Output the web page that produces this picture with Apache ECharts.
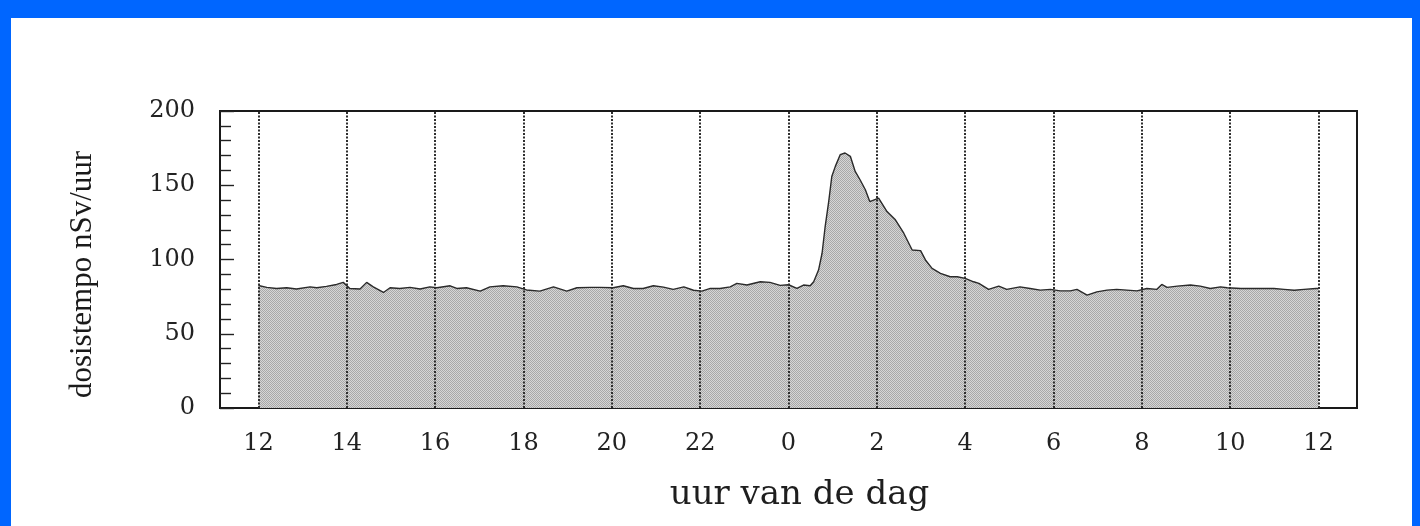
<!DOCTYPE html>
<html>
<head>
<meta charset="utf-8">
<script src="https://cdn.jsdelivr.net/npm/echarts@6/dist/echarts.min.js"></script>
<style>
  html, body { margin: 0; padding: 0; width: 1420px; height: 526px; overflow: hidden; background: #0066ff; }
  #paper { position: absolute; left: 11px; top: 18px; width: 1401px; height: 508px; background: #ffffff; }
  #chart { position: absolute; left: 0; top: 0; width: 1420px; height: 526px; }
</style>
</head>
<body>
<div id="paper"></div>
<div id="chart"></div>
<script>
// hours after 12:00 (noon) at which the curve was read
const hours = [
  0.00, 0.19, 0.41, 0.64, 0.86, 1.17, 1.32, 1.54, 1.77, 1.92,
  2.07, 2.30, 2.45, 2.60, 2.83, 2.98, 3.20, 3.43, 3.66, 3.88,
  4.04, 4.34, 4.49, 4.71, 5.02, 5.24, 5.54, 5.85, 6.07, 6.37,
  6.68, 6.98, 7.21, 7.51, 7.73, 8.03, 8.26, 8.49, 8.71, 8.94,
  9.17, 9.39, 9.63, 9.85, 10.04, 10.23, 10.45, 10.68, 10.83, 11.06,
  11.36, 11.58, 11.81, 12.00, 12.19, 12.34, 12.49, 12.57, 12.68, 12.76,
  12.83, 12.91, 12.98, 13.06, 13.17, 13.28, 13.40, 13.51, 13.62, 13.74,
  13.84, 14.04, 14.23, 14.42, 14.61, 14.80, 14.99, 15.10, 15.25, 15.44,
  15.66, 15.82, 16.00, 16.19, 16.31, 16.53, 16.76, 16.94, 17.24, 17.47,
  17.70, 17.93, 18.15, 18.38, 18.53, 18.76, 18.98, 19.21, 19.43, 19.66,
  19.89, 20.11, 20.34, 20.45, 20.57, 20.80, 21.10, 21.32, 21.55, 21.78,
  21.93, 22.24, 22.46, 22.69, 22.99, 23.22, 23.45, 23.67, 23.94, 24.00
];
// dosistempo (nSv/uur)
const dose = [
  82.5, 81.2, 80.5, 81.0, 80.1, 81.6, 81.0, 81.9, 83.2, 84.6,
  80.5, 80.1, 84.6, 81.6, 77.8, 81.0, 80.5, 81.2, 80.1, 81.6,
  81.0, 82.3, 80.5, 81.0, 78.7, 81.6, 82.3, 81.6, 79.5, 78.7,
  81.6, 78.7, 81.0, 81.2, 81.2, 81.0, 82.3, 80.5, 80.5, 82.3,
  81.4, 79.9, 81.6, 79.3, 78.7, 80.5, 80.5, 81.6, 83.9, 82.8,
  85.0, 84.6, 82.6, 83.0, 80.5, 82.8, 82.3, 85.0, 92.9, 104.2,
  122.2, 139.0, 155.9, 162.7, 170.6, 171.7, 169.5, 159.3, 153.7, 147.0,
  139.0, 141.3, 132.3, 126.7, 117.7, 106.4, 106.0, 99.7, 94.0, 90.7,
  88.4, 88.4, 87.3, 85.0, 83.9, 79.9, 82.1, 79.9, 81.6, 80.5,
  79.4, 79.9, 78.9, 78.9, 79.9, 76.0, 78.2, 79.4, 79.9, 79.4,
  78.9, 80.5, 79.9, 83.2, 81.2, 82.1, 82.8, 82.1, 80.5, 81.6,
  81.0, 80.5, 80.5, 80.5, 80.5, 79.9, 79.3, 79.9, 80.5, 80.5
];
// x tick positions (hours after noon) and their labels (hour of the day)
const xTickHours = [0, 2, 4, 6, 8, 10, 12, 14, 16, 18, 20, 22, 24];
const xTickLabels = ['12', '14', '16', '18', '20', '22', '0', '2', '4', '6', '8', '10', '12'];
const yTickValues = [0, 50, 100, 150, 200];

const seriesData = hours.map((h, i) => [h, dose[i]]);

// halftone-like fill pattern
const pat = document.createElement('canvas');
pat.width = 2; pat.height = 2;
const pctx = pat.getContext('2d');
pctx.fillStyle = '#d6d6d6'; pctx.fillRect(0, 0, 2, 2);
pctx.fillStyle = '#a8a8a8'; pctx.fillRect(0, 0, 1, 1); pctx.fillRect(1, 1, 1, 1);

const gridLineStyle = { type: [2, 1.5], color: '#2e2e2e', width: 2 };
const innerHours = xTickHours.filter(h => h > xTickHours[0] && h < xTickHours[xTickHours.length - 1]);
const edgeHours = [xTickHours[0], xTickHours[xTickHours.length - 1]];

const chart = echarts.init(document.getElementById('chart'), null, { renderer: 'canvas' });
chart.setOption({
  animation: false,
  backgroundColor: 'transparent',
  grid: {
    left: 220, right: 63, top: 111, bottom: 118,
    show: true, borderColor: '#1a1a1a', borderWidth: 2, backgroundColor: 'transparent'
  },
  xAxis: {
    type: 'value',
    min: -0.87, max: 24.87,
    name: 'uur van de dag',
    nameLocation: 'middle',
    nameGap: 70,
    nameTextStyle: { fontFamily: 'DejaVu Serif', fontSize: 34, color: '#1e1e1e', padding: [0, 0, 0, 22] },
    axisLine: { show: false, onZero: false },
    axisTick: { show: false },
    splitLine: { show: false },
    axisLabel: {
      customValues: xTickHours,
      formatter: v => xTickLabels[xTickHours.indexOf(Math.round(v))],
      fontFamily: 'DejaVu Serif', fontSize: 24, color: '#222', margin: 24
    }
  },
  yAxis: {
    type: 'value',
    min: 0, max: 200, interval: 50,
    name: 'dosistempo nSv/uur',
    nameLocation: 'middle',
    nameGap: 122,
    nameRotate: 90,
    nameTextStyle: { fontFamily: 'Liberation Serif', fontSize: 31, color: '#1a1a1a', padding: [0, 30, 0, 0] },
    axisLine: { show: false, onZero: false },
    axisTick: { show: true, inside: true, length: 14, lineStyle: { color: '#222', width: 1.4 } },
    minorTick: { show: true, splitNumber: 5, length: 11, lineStyle: { color: '#222', width: 1.4 } },
    splitLine: { show: false },
    axisLabel: {
      customValues: yTickValues,
      fontFamily: 'DejaVu Serif', fontSize: 24, color: '#222', margin: 25
    }
  },
  series: [
    {
      type: 'line', data: [], z: 1, silent: true,
      markLine: {
        symbol: 'none', silent: true, label: { show: false },
        lineStyle: gridLineStyle,
        data: innerHours.map(h => ({ xAxis: h }))
      }
    },
    {
      type: 'line', z: 3, silent: true,
      data: seriesData,
      showSymbol: false, symbol: 'none',
      lineStyle: { color: '#2a2a2a', width: 1.4 },
      areaStyle: { color: { image: pat, repeat: 'repeat' }, opacity: 1 }
    },
    {
      type: 'line', data: [], z: 5, silent: true,
      markLine: {
        symbol: 'none', silent: true, label: { show: false },
        lineStyle: gridLineStyle,
        data: edgeHours.map(h => ({ xAxis: h }))
      }
    }
  ]
});
</script>
</body>
</html>
